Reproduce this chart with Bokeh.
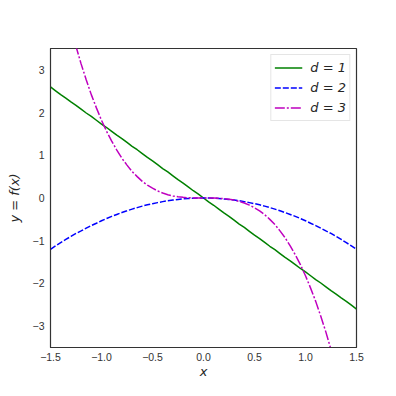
from bokeh.plotting import figure
from bokeh.models import Legend, LegendItem, FixedTicker, Range1d
from bokeh.embed import file_html
from bokeh.resources import INLINE

x_vals = [-1.5, -1.45, -1.4, -1.35, -1.3, -1.25, -1.2, -1.15, -1.1, -1.05, -1.0,
          -0.95, -0.9, -0.85, -0.8, -0.75, -0.7, -0.65, -0.6, -0.55, -0.5,
          -0.45, -0.4, -0.35, -0.3, -0.25, -0.2, -0.15, -0.1, -0.05, 0.0,
          0.05, 0.1, 0.15, 0.2, 0.25, 0.3, 0.35, 0.4, 0.45, 0.5,
          0.55, 0.6, 0.65, 0.7, 0.75, 0.8, 0.85, 0.9, 0.95, 1.0,
          1.05, 1.1, 1.15, 1.2, 1.25, 1.3, 1.35, 1.4, 1.45, 1.5]

y_d1 = [2.60, 2.51, 2.42, 2.34, 2.25, 2.17, 2.08, 1.99, 1.91, 1.82, 1.73,
        1.65, 1.56, 1.47, 1.39, 1.30, 1.21, 1.13, 1.04, 0.95, 0.87,
        0.78, 0.69, 0.61, 0.52, 0.43, 0.35, 0.26, 0.17, 0.09, 0.0,
        -0.09, -0.17, -0.26, -0.35, -0.43, -0.52, -0.61, -0.69, -0.78, -0.87,
        -0.95, -1.04, -1.13, -1.21, -1.30, -1.39, -1.47, -1.56, -1.65, -1.73,
        -1.82, -1.91, -1.99, -2.08, -2.17, -2.25, -2.34, -2.42, -2.51, -2.60]

y_d2 = [-1.20, -1.12, -1.045, -0.97, -0.90, -0.83, -0.77, -0.705, -0.645, -0.59, -0.533,
        -0.48, -0.43, -0.385, -0.34, -0.30, -0.26, -0.225, -0.19, -0.16, -0.133,
        -0.108, -0.085, -0.065, -0.048, -0.033, -0.021, -0.012, -0.005, -0.001, 0.0,
        -0.001, -0.005, -0.012, -0.021, -0.033, -0.048, -0.065, -0.085, -0.108, -0.133,
        -0.16, -0.19, -0.225, -0.26, -0.30, -0.34, -0.385, -0.43, -0.48, -0.533,
        -0.59, -0.645, -0.705, -0.77, -0.83, -0.90, -0.97, -1.045, -1.12, -1.20]

y_d3 = [6.14, 5.55, 4.99, 4.48, 4.00, 3.55, 3.14, 2.77, 2.42, 2.11, 1.82,
        1.56, 1.33, 1.12, 0.93, 0.77, 0.62, 0.50, 0.39, 0.30, 0.23,
        0.166, 0.116, 0.078, 0.049, 0.028, 0.015, 0.006, 0.002, 0.0002, 0.0,
        -0.0002, -0.002, -0.006, -0.015, -0.028, -0.049, -0.078, -0.116, -0.166, -0.23,
        -0.30, -0.39, -0.50, -0.62, -0.77, -0.93, -1.12, -1.33, -1.56, -1.82,
        -2.11, -2.42, -2.77, -3.14, -3.55, -4.00, -4.48, -4.99, -5.55, -6.14]

labels = ["d = 1", "d = 2", "d = 3"]
x_ticks = [-1.5, -1.0, -0.5, 0.0, 0.5, 1.0, 1.5]
y_ticks = [-3, -2, -1, 0, 1, 2, 3]

p = figure(output_backend="svg", toolbar_location=None,
           x_range=Range1d(-1.5, 1.5), y_range=Range1d(-3.5, 3.5),
           frame_width=306, frame_height=299,
           min_border_left=50, min_border_right=32, min_border_top=48, min_border_bottom=41)

p.xgrid.visible = False
p.ygrid.visible = False
p.outline_line_color = "#333333"
p.outline_line_width = 1.2

r1 = p.line(x_vals, y_d1, line_color="green", line_width=1.5)
r2 = p.line(x_vals, y_d2, line_color="blue", line_width=1.5, line_dash="6 2")
r3 = p.line(x_vals, y_d3, line_color="#bf00bf", line_width=1.5, line_dash="10 2 2 2")

def fmt(v, dec):
    s = f"{abs(v):.{dec}f}"
    return ("\u2212" + s) if v < 0 else s

for ax, ticks, dec in ((p.xaxis[0], x_ticks, 1), (p.yaxis[0], y_ticks, 0)):
    ax.ticker = FixedTicker(ticks=ticks)
    ax.major_label_overrides = {t: fmt(t, dec) for t in ticks}
    ax.major_tick_line_color = None
    ax.minor_tick_line_color = None
    ax.major_tick_out = 0
    ax.major_tick_in = 0
    ax.minor_tick_out = 0
    ax.axis_line_color = "#333333"
    ax.major_label_text_font = "Liberation Sans"
    ax.major_label_text_font_size = "10.5px"
    ax.major_label_text_color = "#333333"
    ax.axis_label_text_font = "DejaVu Sans"
    ax.axis_label_text_font_size = "13px"
    ax.axis_label_text_font_style = "italic"
    ax.axis_label_text_color = "#262626"

p.xaxis[0].major_label_standoff = 5
p.xaxis[0].axis_label_standoff = 0
p.yaxis[0].major_label_standoff = 6
p.yaxis[0].axis_label_standoff = 8

p.xaxis.axis_label = "x"
p.yaxis.axis_label = "y = f(x)"

legend = Legend(items=[LegendItem(label=labels[0], renderers=[r1]),
                       LegendItem(label=labels[1], renderers=[r2]),
                       LegendItem(label=labels[2], renderers=[r3])],
                location="top_right")
legend.label_text_font = "DejaVu Sans"
legend.label_text_font_size = "13px"
legend.label_text_font_style = "italic"
legend.label_text_color = "#262626"
legend.border_line_color = "#cccccc"
legend.border_line_width = 1
legend.margin = 6
legend.padding = 3
legend.spacing = 1
legend.glyph_width = 28
legend.glyph_height = 19
legend.label_height = 19
legend.label_standoff = 8
p.add_layout(legend)

open("out.html", "w").write(file_html(p, INLINE))
